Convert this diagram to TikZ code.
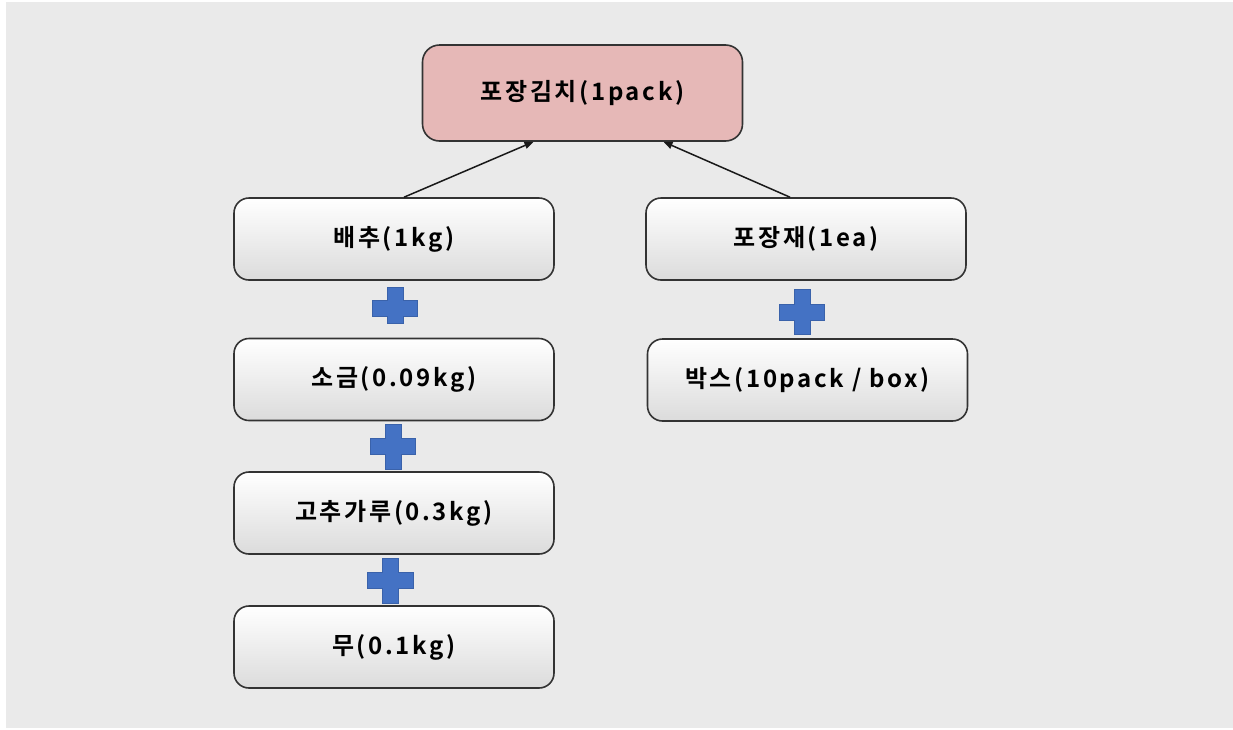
\documentclass[tikz,border=0pt]{standalone}
\usepackage{fontspec}
\newfontfamily\krfont[LetterSpace=11, BoldFont={Noto Sans CJK KR Bold}]{Noto Sans CJK KR}
\usetikzlibrary{arrows.meta,calc}
\definecolor{bgray}{HTML}{EAEAEA}
\definecolor{pinkfill}{HTML}{E6B8B7}
\definecolor{boxline}{HTML}{333333}
\definecolor{plusblue}{HTML}{4472C4}
\definecolor{plusedge}{HTML}{3A62AA}
\tikzset{
  lbl/.style={font=\krfont\bfseries\fontsize{24}{27}\selectfont, text=black},
  topbox/.style={lbl, draw=boxline, line width=1.6pt, fill=pinkfill, rounded corners=17pt,
     minimum width=320pt, minimum height=96pt, inner sep=0pt},
  itembox/.style={lbl, draw=boxline, line width=1.6pt, rounded corners=15pt,
     top color=white, middle color=gray!5, bottom color=gray!28,
     minimum width=320pt, minimum height=82pt, inner sep=0pt},
  arr/.style={draw=black!90, line width=1.5pt, -{Triangle[length=9pt,width=7pt]}},
  plusmark/.style={fill=plusblue, draw=plusedge, line width=0.8pt}
}
\begin{document}
\begin{tikzpicture}[x=1pt,y=-1pt]
\useasboundingbox (0,0) rectangle (1233,729);
\fill[white] (0,0) rectangle (1233,729);
\fill[bgray] (6,2) rectangle (1233,728);

\node[topbox] (top) at (582.5,93) {\raisebox{-2.5pt}{포장김치(1pack)}};
\node[itembox] (cabbage) at (394,239) {\raisebox{-2.5pt}{배추(1kg)}};
\node[itembox] (salt) at (394,379.5) {\raisebox{-2.5pt}{소금(0.09kg)}};
\node[itembox] (pepper) at (394,513) {\raisebox{-2.5pt}{고추가루(0.3kg)}};
\node[itembox] (radish) at (394,647) {\raisebox{-2.5pt}{무(0.1kg)}};
\node[itembox] (pack) at (806,239) {\raisebox{-2.5pt}{포장재(1ea)}};
\node[itembox] (box) at (807.5,380) {\raisebox{-2.5pt}{박스(10pack / box)}};

\draw[arr] ($(cabbage.north)+(10,0)$) -- ($(top.south)+(-49,0)$);
\draw[arr] ($(pack.north)+(-16,0)$) -- ($(top.south)+(81,0)$);

% plus signs
\path[plusmark] (387,287) -- (403,287) -- (403,300) -- (417,300) -- (417,316) -- (403,316) -- (403,323) -- (387,323) -- (387,316) -- (372,316) -- (372,300) -- (387,300) -- cycle;
\path[plusmark] (794,289) -- (810,289) -- (810,304) -- (824,304) -- (824,320) -- (810,320) -- (810,334) -- (794,334) -- (794,320) -- (779,320) -- (779,304) -- (794,304) -- cycle;
\path[plusmark] (385,424) -- (401,424) -- (401,438.5) -- (415,438.5) -- (415,454.5) -- (401,454.5) -- (401,469) -- (385,469) -- (385,454.5) -- (370,454.5) -- (370,438.5) -- (385,438.5) -- cycle;
\path[plusmark] (382,558) -- (398,558) -- (398,572.5) -- (413,572.5) -- (413,588.5) -- (398,588.5) -- (398,603) -- (382,603) -- (382,588.5) -- (367,588.5) -- (367,572.5) -- (382,572.5) -- cycle;
\end{tikzpicture}
\end{document}
